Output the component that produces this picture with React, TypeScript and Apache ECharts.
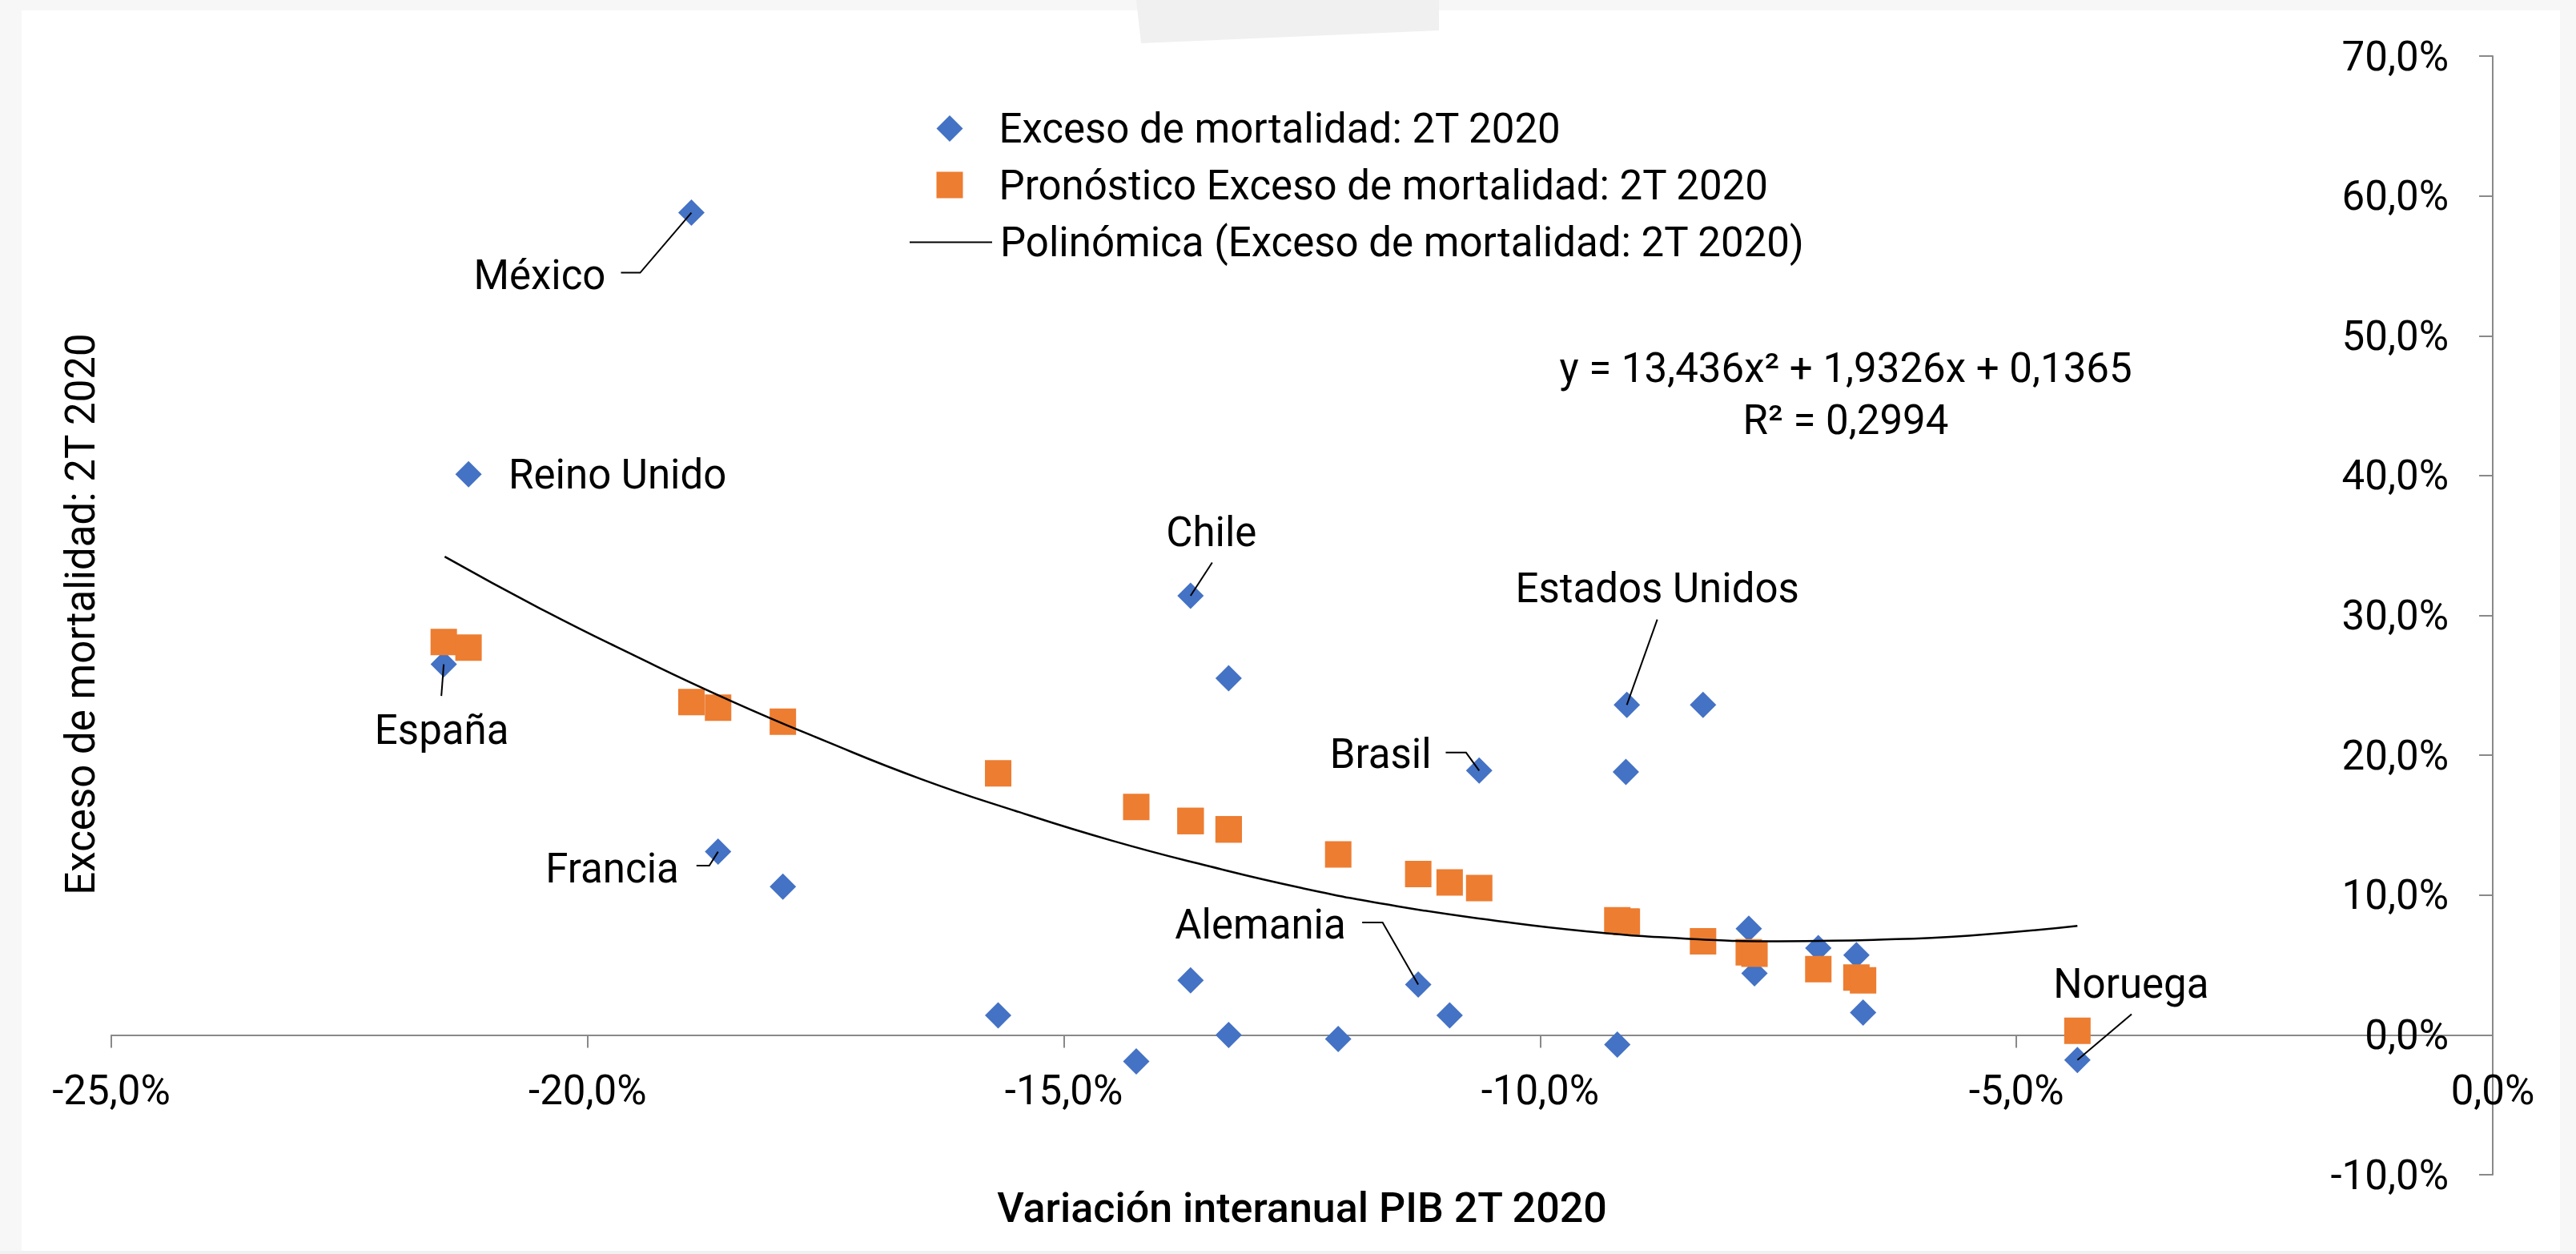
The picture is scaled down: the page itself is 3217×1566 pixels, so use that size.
import React, { useEffect, useRef } from 'react';
import * as echarts from 'echarts';

// ---- Data ----
const seriesNames = [
  'Exceso de mortalidad: 2T 2020',
  'Pronóstico Exceso de mortalidad: 2T 2020',
  'Polinómica (Exceso de mortalidad: 2T 2020)',
];

// Variación interanual PIB 2T 2020 (%)
const gdpChange = [
  -21.51, -21.25, -18.91, -18.63, -17.95, -15.69, -14.24, -13.67, -13.67, -13.27,
  -13.27, -12.12, -11.28, -10.95, -10.64, -9.19, -9.09, -9.1, -8.29, -7.81,
  -7.75, -7.08, -6.68, -6.61, -4.36,
];
// Exceso de mortalidad: 2T 2020 (%)
const excessMortality = [
  26.5, 40.1, 58.8, 13.1, 10.6, 1.4, -1.9, 31.4, 3.9, 25.5,
  0.0, -0.3, 3.6, 1.4, 18.9, -0.7, 23.6, 18.8, 23.6, 7.6,
  4.4, 6.2, 5.7, 1.6, -1.8,
];
// Pronóstico Exceso de mortalidad: 2T 2020 (%)
const forecastMortality = [
  28.1, 27.7, 23.8, 23.4, 22.4, 18.7, 16.3, 15.3, 15.3, 14.7,
  14.7, 12.9, 11.5, 10.9, 10.5, 8.2, 8.1, 8.1, 6.7, 5.9,
  5.8, 4.7, 4.1, 3.9, 0.3,
];
const countryLabels = [
  'España', 'Reino Unido', 'México', 'Francia', '', '', '', 'Chile', '', '',
  '', '', 'Alemania', '', 'Brasil', '', 'Estados Unidos', '', '', '',
  '', '', '', '', 'Noruega',
];

// Polynomial trend line
const trendX = [
  -21.5, -20.5, -19.5, -18.5, -17.5, -16.5, -15.5, -14.5, -13.5, -12.5,
  -11.5, -10.5, -9.5, -8.5, -7.5, -6.5, -5.5, -4.36,
];
const trendY = [
  34.2, 30.5, 27.1, 23.9, 21.0, 18.3, 16.0, 13.9, 12.1, 10.5,
  9.2, 8.2, 7.4, 6.9, 6.7, 6.8, 7.1, 7.8,
];

const equationLines = ['y = 13,436x² + 1,9326x + 0,1365', 'R² = 0,2994'];

const xMin = -25;
const xMax = 0;
const xStep = 5;
const yMin = -10;
const yMax = 70;
const yStep = 10;

// ---- Label placement relative to the point (styles, not data) ----
type Placement = {
  tx: number;
  ty: number;
  align: 'left' | 'center' | 'right';
  leader: number[][]; // from the label end towards the point (point itself appended)
};
const labelPlacement: Record<string, Placement> = {
  'México': { tx: -107, ty: 78, align: 'right', leader: [[-88, 75], [-64, 75]] },
  'Reino Unido': { tx: 50, ty: 0, align: 'left', leader: [] },
  'España': { tx: -2.5, ty: 82, align: 'center', leader: [[-3, 39.5]] },
  'Francia': { tx: -49, ty: 21, align: 'right', leader: [[-27, 17.4], [-11, 17.4]] },
  'Chile': { tx: 26, ty: -80, align: 'center', leader: [[27, -41.6]] },
  'Estados Unidos': { tx: 38, ty: -146, align: 'center', leader: [[38, -106.6]] },
  'Brasil': { tx: -59.6, ty: -20.5, align: 'right', leader: [[-41.8, -22.5], [-16.4, -22.5]] },
  'Alemania': { tx: -90.4, ty: -75.5, align: 'right', leader: [[-70, -77.5], [-44.5, -77.5]] },
  'Noruega': { tx: 67, ty: -95, align: 'center', leader: [[67.7, -57.3]] },
};

const FONT = 'Roboto';
const BLUE = '#4472C4';
const ORANGE = '#ED7D31';
const AXIS_GRAY = '#898989';

const pct = (v: number) => v.toFixed(1).replace('.', ',') + '%';

export default function App() {
  const ref = useRef<HTMLDivElement>(null);

  useEffect(() => {
    if (!ref.current) return;
    const chart = echarts.init(ref.current, null, { renderer: 'svg' });

    const blueData = gdpChange.map((x, i) => [x, excessMortality[i]]);
    const orangeData = gdpChange.map((x, i) => [x, forecastMortality[i]]);
    const trendData = trendX.map((x, i) => [x, trendY[i]]);

    const labelled = countryLabels
      .map((name, i) => ({ name, i }))
      .filter((d) => d.name !== '');
    const labelData = labelled.map((d) => [gdpChange[d.i], excessMortality[d.i]]);
    const labelNames = labelled.map((d) => d.name);

    // value 0 of the y axis sits this many px above the grid bottom
    const gridTop = 70;
    const gridBottomY = 1467;
    const zeroOffset = -((0 - yMin) / (yMax - yMin)) * (gridBottomY - gridTop);

    const legendText = {
      fontSize: 51,
      color: '#000',
      fontFamily: FONT,
    };

    const option: any = {
      animation: false,
      backgroundColor: '#ffffff',
      textStyle: { fontFamily: FONT },
      grid: {
        left: 139,
        right: 104,
        top: gridTop,
        bottom: 1566 - gridBottomY,
        containLabel: false,
        outerBoundsMode: 'none',
      },
      legend: [
        {
          orient: 'vertical',
          left: 1164.5,
          top: 130,
          itemWidth: 33,
          itemHeight: 33,
          itemGap: 19.5,
          selectedMode: false,
          data: [seriesNames[0], seriesNames[1]],
          textStyle: { ...legendText, padding: [0, 0, 0, 40] },
        },
        {
          orient: 'vertical',
          left: 1130,
          top: 272,
          itemWidth: 103,
          itemHeight: 33,
          selectedMode: false,
          data: [{ name: seriesNames[2], itemStyle: { opacity: 0, color: 'rgba(0,0,0,0)', borderWidth: 0 } }],
          textStyle: { ...legendText, padding: [0, 0, 0, 5] },
        },
      ],
      xAxis: {
        type: 'value',
        min: xMin,
        max: xMax,
        interval: xStep,
        position: 'bottom',
        offset: zeroOffset,
        name: 'Variación interanual PIB 2T 2020',
        nameLocation: 'middle',
        nameGap: 190,
        nameTextStyle: { fontSize: 52, fontWeight: 500, color: '#000', fontFamily: FONT },
        axisLine: { show: true, onZero: false, lineStyle: { color: AXIS_GRAY, width: 2 } },
        axisTick: { show: true, inside: false, length: 16, lineStyle: { color: AXIS_GRAY, width: 2 } },
        axisLabel: {
          show: true,
          formatter: (v: number) => pct(v),
          fontSize: 51,
          color: '#000',
          fontFamily: FONT,
          margin: 44,
          showMinLabel: true,
          showMaxLabel: true,
        },
        splitLine: { show: false },
      },
      yAxis: {
        type: 'value',
        min: yMin,
        max: yMax,
        interval: yStep,
        position: 'right',
        axisLine: { show: true, onZero: false, lineStyle: { color: AXIS_GRAY, width: 2 } },
        axisTick: { show: true, inside: true, length: 17, lineStyle: { color: AXIS_GRAY, width: 2 } },
        axisLabel: {
          show: true,
          inside: true,
          formatter: (v: number) => pct(v),
          fontSize: 51,
          color: '#000',
          fontFamily: FONT,
          margin: 55,
          showMinLabel: true,
          showMaxLabel: true,
        },
        splitLine: { show: false },
      },
      series: [
        {
          name: seriesNames[0],
          type: 'scatter',
          symbol: 'diamond',
          symbolSize: 33,
          itemStyle: { color: BLUE, opacity: 1 },
          z: 3,
          emphasis: { disabled: true },
          data: blueData,
        },
        {
          name: seriesNames[1],
          type: 'scatter',
          symbol: 'rect',
          symbolSize: 33,
          itemStyle: { color: ORANGE, opacity: 1 },
          z: 4,
          emphasis: { disabled: true },
          data: orangeData,
        },
        {
          name: seriesNames[2],
          type: 'line',
          smooth: true,
          symbol: 'none',
          showSymbol: false,
          lineStyle: { color: '#000', width: 2.5 },
          itemStyle: { color: '#000' },
          z: 5,
          emphasis: { disabled: true },
          data: trendData,
        },
        {
          name: 'etiquetas',
          type: 'custom',
          z: 6,
          clip: false,
          silent: true,
          encode: { x: 0, y: 1 },
          data: labelData,
          renderItem: (params: any, api: any) => {
            const name = labelNames[params.dataIndex];
            const p = labelPlacement[name];
            const c = api.coord([api.value(0), api.value(1)]);
            const children: any[] = [];
            if (p.leader.length) {
              const pts = p.leader.map(([dx, dy]) => [c[0] + dx, c[1] + dy]);
              pts.push([c[0], c[1]]);
              children.push({
                type: 'polyline',
                shape: { points: pts },
                style: { stroke: '#000', lineWidth: 2, fill: null },
              });
            }
            children.push({
              type: 'text',
              x: c[0] + p.tx,
              y: c[1] + p.ty,
              style: {
                text: name,
                fontSize: 51,
                fontFamily: FONT,
                fill: '#000',
                align: p.align,
                verticalAlign: 'middle',
              },
            });
            return { type: 'group', children };
          },
        },
      ],
      graphic: [
        { type: 'rect', silent: true, shape: { x: 0, y: 0, width: 3217, height: 13 }, style: { fill: '#f7f7f7' } },
        { type: 'rect', silent: true, shape: { x: 0, y: 0, width: 27, height: 1566 }, style: { fill: '#f7f7f7' } },
        { type: 'rect', silent: true, shape: { x: 3197, y: 0, width: 20, height: 1566 }, style: { fill: '#f7f7f7' } },
        { type: 'rect', silent: true, shape: { x: 0, y: 1562, width: 3217, height: 4 }, style: { fill: '#f1f1f1' } },
        {
          type: 'polygon',
          silent: true,
          shape: { points: [[1419, 0], [1797, 0], [1797, 38], [1425, 54]] },
          style: { fill: '#f0f0f0' },
        },
        {
          type: 'text',
          silent: true,
          x: 100,
          y: 767,
          rotation: Math.PI / 2,
          style: {
            text: 'Exceso de mortalidad: 2T 2020',
            fontSize: 51,
            fontFamily: FONT,
            fill: '#000',
            align: 'center',
            verticalAlign: 'middle',
            textAlign: 'center',
            textVerticalAlign: 'middle',
          },
        },
        {
          type: 'text',
          silent: true,
          x: 2305,
          y: 459,
          style: {
            text: equationLines[0],
            fontSize: 51,
            fontFamily: FONT,
            fill: '#000',
            align: 'center',
            verticalAlign: 'middle',
            textAlign: 'center',
            textVerticalAlign: 'middle',
          },
        },
        {
          type: 'text',
          silent: true,
          x: 2305,
          y: 524,
          style: {
            text: equationLines[1],
            fontSize: 51,
            fontFamily: FONT,
            fill: '#000',
            align: 'center',
            verticalAlign: 'middle',
            textAlign: 'center',
            textVerticalAlign: 'middle',
          },
        },
      ],
    };

    chart.setOption(option);
    return () => {
      chart.dispose();
    };
  }, []);

  return (
    <div
      ref={ref}
      style={{ position: 'fixed', left: 0, top: 0, width: 3217, height: 1566, background: '#fff' }}
    />
  );
}
